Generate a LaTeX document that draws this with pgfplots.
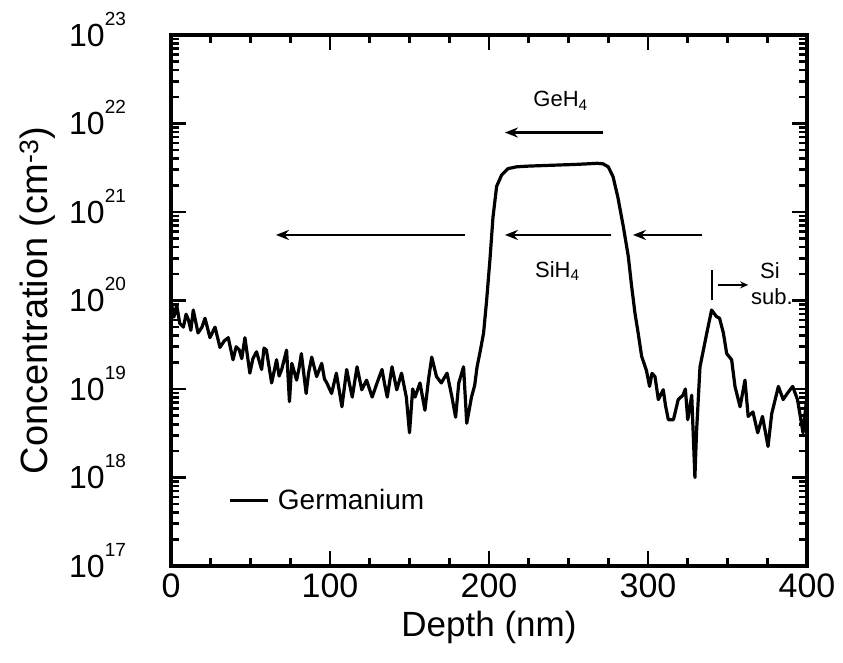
\documentclass[border=0pt]{standalone}
\usepackage{fontspec}
\setmainfont{Liberation Sans}
\usepackage{pgfplots}
\pgfplotsset{compat=1.18}
\usetikzlibrary{arrows.meta}
\newcommand\ex[1]{\raisebox{0.66em}{\fontsize{19}{19}\selectfont #1}}
\pgfplotstableread{
x y
0 9.8e19
1.8 6.5e19
3.6 8.9e19
5.5 5.5e19
7.8 5.0e19
9.5 7.0e19
11 6.0e19
12.5 4.6e19
14 7.8e19
17 4.3e19
19.5 5.0e19
21.4 6.3e19
24.5 3.8e19
27.7 5.0e19
30.8 2.95e19
33.5 3.5e19
36 3.8e19
39 2.14e19
41 3.0e19
43 2.75e19
44.5 2.2e19
46.5 3.8e19
49.6 1.51e19
51.5 2.2e19
53.8 2.63e19
57 1.66e19
58.5 2.9e19
60 2.75e19
63.3 1.17e19
66.4 2.14e19
68 1.4e19
69.6 1.66e19
72.7 2.75e19
74.5 7.2e18
76 1.95e19
79 1.26e19
80.5 1.7e19
82 2.51e19
85 8.9e18
86.5 1.5e19
88.5 2.29e19
91.6 1.38e19
94.8 1.95e19
96.5 1.3e19
98 1.17e19
101 8.9e18
104 1.51e19
107.5 6.3e18
110.5 1.66e19
112 1.2e19
114 8.1e18
117 1.78e19
120 9.8e18
123 1.26e19
126.5 8.1e18
129.6 1.17e19
132.7 1.66e19
134.5 1.1e19
136 8.1e18
139 1.78e19
142 9.8e18
145 1.51e19
148 8.1e18
150 3.2e18
152 1.0e19
153.5 8.1e18
156.6 1.17e19
159.7 5.75e18
162 1.3e19
164 2.29e19
167 1.38e19
170 1.17e19
173.6 1.51e19
176.7 8.1e18
179 4.8e18
181 1.17e19
184 1.78e19
186 4.1e18
189 8.1e18
191 1.1e19
192.5 1.78e19
194.6 2.75e19
196.6 4.3e19
198.5 1.0e20
200.6 2.9e20
202.5 8.7e20
204.8 1.95e21
208 2.63e21
212 3.09e21
217.4 3.24e21
225 3.3e21
235 3.35e21
245 3.4e21
255 3.45e21
262 3.5e21
268 3.55e21
271.7 3.5e21
275 3.24e21
278 2.51e21
281 1.48e21
284.5 6.8e20
287.6 3.16e20
289.7 1.45e20
291.8 7.2e19
293.8 4.3e19
296 2.34e19
299 1.62e19
301 1.07e19
302.5 1.5e19
304.4 1.38e19
306.5 7.6e18
309.6 9.8e18
311 6.5e18
312.8 4.5e18
316 4.5e18
319 7.6e18
322 8.5e18
323.5 1.0e19
325 4.5e18
327.5 8.5e18
329.5 1.0e18
330.5 3.2e18
332.7 1.78e19
337 4.3e19
340 7.8e19
343 6.6e19
345 6.3e19
347.4 4.3e19
349.5 2.51e19
352.6 2.14e19
354.7 1.07e19
357.9 6.3e18
361 1.26e19
363 4.9e18
366 5.5e18
369 3.2e18
372 4.9e18
375.5 2.24e18
377.8 5.25e18
380 7.6e18
382 1.07e19
385 7.6e18
388 9.1e18
391 1.07e19
394 7.6e18
397.5 3.2e18
400 8.5e18
}\gedata
\begin{document}
\begin{tikzpicture}
\pgfplotsset{every axis/.append style={line width=3.5pt}}
\begin{axis}[name=ax, scale only axis, width=636pt, height=531pt,
  xmin=0, xmax=400, ymode=log, ymin=1e17, ymax=1e23,
  xtick={0,100,200,300,400}, minor xtick={25,50,75,125,150,175,225,250,275,325,350,375},
  ytickten={17,...,23},
  yticklabels={10\ex{17},10\ex{18},10\ex{19},10\ex{20},10\ex{21},10\ex{22},10\ex{23}},
  /pgf/number format/assume math mode=true,
  xticklabel={\pgfmathprintnumber{\tick}},
  xticklabel style={font=\fontsize{34}{34}\selectfont, yshift=-3pt},
  yticklabel style={font=\fontsize{32}{32}\selectfont, anchor=base east, xshift=-40pt, yshift=-11.5pt},
  tick align=inside, major tick length=15pt, minor tick length=8pt,
  every tick/.style={line width=2.6pt, black},
  axis line style={line width=3.5pt},
  xlabel={Depth (nm)}, ylabel={Concentration (cm\textsuperscript{-3})},
  xlabel style={font=\fontsize{35}{35}\selectfont, at={(axis description cs:0.5,-0.115)}, anchor=center},
  ylabel style={font=\fontsize{38}{38}\selectfont, at={(axis description cs:-0.21,0.5)}, anchor=center},
  legend style={at={(axis description cs:0.088,0.124)}, anchor=west, draw=none, fill=none,
    font=\fontsize{28}{28}\selectfont, inner sep=0pt, column sep=6pt},
  legend image code/.code={\draw[line width=3.2pt] (0pt,0pt) -- (38pt,0pt);},
  clip=false]
\addplot[black, line width=3.2pt, line join=round] table {\gedata};
\addlegendentry{Germanium}
\draw[line width=2.2pt, -{Stealth[length=13pt,width=10pt]}] (axis cs:185,5.5e20) -- (axis cs:66,5.5e20);
\draw[line width=2.2pt, -{Stealth[length=13pt,width=10pt]}] (axis cs:277,5.5e20) -- (axis cs:210,5.5e20);
\draw[line width=2.2pt, -{Stealth[length=13pt,width=10pt]}] (axis cs:334,5.5e20) -- (axis cs:290.5,5.5e20);
\draw[line width=2.2pt, -{Stealth[length=13pt,width=10pt]}] (axis cs:272,7.9e21) -- (axis cs:210,7.9e21);
\draw[line width=2.2pt] (axis cs:340.5,1e20) -- (axis cs:340.5,2.2e20);
\draw[line width=1.8pt, -{Stealth[length=8pt,width=7pt]}] (axis cs:344,1.5e20) -- (axis cs:363,1.5e20);
\node[font=\fontsize{22}{22}\selectfont] at (axis cs:245,1.8e22) {GeH\textsubscript{4}};
\node[font=\fontsize{22}{22}\selectfont] at (axis cs:243,2.15e20) {SiH\textsubscript{4}};
\node[font=\fontsize{22}{22}\selectfont] at (axis cs:376.7,2.2e20) {Si};
\node[font=\fontsize{22}{22}\selectfont] at (axis cs:378,1.1e20) {sub.};
\end{axis}
\path ([xshift=-171pt,yshift=-96pt]ax.south west) rectangle ([xshift=36pt,yshift=35pt]ax.north east);
\end{tikzpicture}
\end{document}
